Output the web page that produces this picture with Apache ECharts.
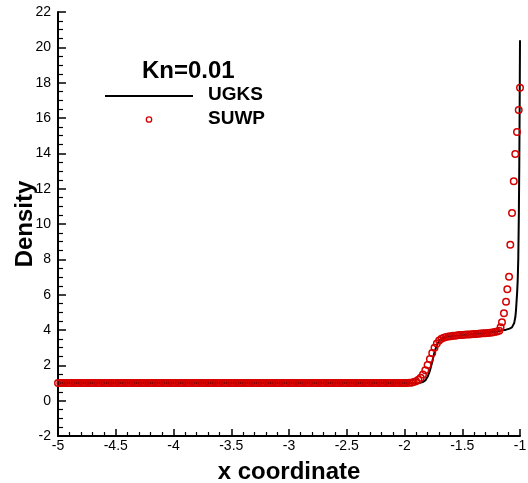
<!DOCTYPE html>
<html><head><meta charset="utf-8">
<script src="https://cdn.jsdelivr.net/npm/echarts@6/dist/echarts.min.js"></script>
<style>html,body{margin:0;padding:0;background:#fff}#c{width:528px;height:483px}</style>
</head><body><div id="c"></div>
<script>
// UGKS solution (solid line)
const ugksX = [-5, -2.5, -1.9, -1.86, -1.84, -1.82, -1.80, -1.78, -1.76, -1.74, -1.72, -1.70, -1.68, -1.65, -1.6, -1.5, -1.4, -1.3, -1.2, -1.15, -1.12, -1.09, -1.07, -1.06, -1.05, -1.04, -1.035, -1.03, -1.025, -1.02, -1.015, -1.01, -1.006, -1.003, -1.0];
const ugksY = [1, 1, 1.0, 1.02, 1.06, 1.15, 1.35, 1.7, 2.2, 2.75, 3.15, 3.4, 3.52, 3.6, 3.65, 3.71, 3.77, 3.83, 3.92, 3.98, 4.02, 4.08, 4.15, 4.2, 4.4, 4.75, 5.1, 5.6, 6.1, 6.8, 8.0, 10.5, 13.5, 16.5, 20.4];

// SUWP solution (circles)
const suwpX = [
  -5,-4.98,-4.96,-4.94,-4.92,-4.9,-4.88,-4.86,-4.84,-4.82,-4.8,-4.78,-4.76,-4.74,-4.72,-4.7,-4.68,-4.66,-4.64,-4.62,-4.6,-4.58,-4.56,-4.54,-4.52,
  -4.5,-4.48,-4.46,-4.44,-4.42,-4.4,-4.38,-4.36,-4.34,-4.32,-4.3,-4.28,-4.26,-4.24,-4.22,-4.2,-4.18,-4.16,-4.14,-4.12,-4.1,-4.08,-4.06,-4.04,-4.02,
  -4,-3.98,-3.96,-3.94,-3.92,-3.9,-3.88,-3.86,-3.84,-3.82,-3.8,-3.78,-3.76,-3.74,-3.72,-3.7,-3.68,-3.66,-3.64,-3.62,-3.6,-3.58,-3.56,-3.54,-3.52,
  -3.5,-3.48,-3.46,-3.44,-3.42,-3.4,-3.38,-3.36,-3.34,-3.32,-3.3,-3.28,-3.26,-3.24,-3.22,-3.2,-3.18,-3.16,-3.14,-3.12,-3.1,-3.08,-3.06,-3.04,-3.02,
  -3,-2.98,-2.96,-2.94,-2.92,-2.9,-2.88,-2.86,-2.84,-2.82,-2.8,-2.78,-2.76,-2.74,-2.72,-2.7,-2.68,-2.66,-2.64,-2.62,-2.6,-2.58,-2.56,-2.54,-2.52,
  -2.5,-2.48,-2.46,-2.44,-2.42,-2.4,-2.38,-2.36,-2.34,-2.32,-2.3,-2.28,-2.26,-2.24,-2.22,-2.2,-2.18,-2.16,-2.14,-2.12,-2.1,-2.08,-2.06,-2.04,-2.02,
  -2,-1.98,-1.96,-1.94,-1.92,-1.9,-1.88,-1.86,-1.84,-1.82,-1.8,-1.78,-1.76,-1.74,-1.72,-1.7,-1.68,-1.66,
  -1.64,-1.62,-1.6,-1.58,-1.56,-1.54,-1.52,-1.5,-1.48,-1.46,-1.44,-1.42,-1.4,-1.38,-1.36,-1.34,-1.32,-1.3,-1.28,-1.26,-1.24,-1.22,-1.2,-1.18,
  -1.168,
  -1.156,-1.139,-1.121,-1.11,-1.095,-1.084,-1.069,-1.054,-1.041,-1.026,-1.011,-1.0
];
const suwpY = [
  1,1,1,1,1,1,1,1,1,1,1,1,1,1,1,1,1,1,1,1,1,1,1,1,1,
  1,1,1,1,1,1,1,1,1,1,1,1,1,1,1,1,1,1,1,1,1,1,1,1,1,
  1,1,1,1,1,1,1,1,1,1,1,1,1,1,1,1,1,1,1,1,1,1,1,1,1,
  1,1,1,1,1,1,1,1,1,1,1,1,1,1,1,1,1,1,1,1,1,1,1,1,1,
  1,1,1,1,1,1,1,1,1,1,1,1,1,1,1,1,1,1,1,1,1,1,1,1,1,
  1,1,1,1,1,1,1,1,1,1,1,1,1,1,1,1,1,1,1,1,1,1,1,1,1,
  1.0,1.0,1.01,1.02,1.05,1.1,1.18,1.3,1.48,1.72,2.02,2.36,2.7,3.0,3.24,3.4,3.5,3.56,
  3.6,3.63,3.65,3.67,3.68,3.7,3.71,3.72,3.73,3.74,3.75,3.76,3.77,3.78,3.79,3.8,3.81,3.82,3.83,3.85,3.86,3.88,3.91,3.96,
  4.15,
  4.44,4.95,5.6,6.3,7.02,8.83,10.62,12.42,13.96,15.21,16.45,17.71
];

const xTicks = {min: -5, max: -1, interval: 0.5};
const yTicks = {min: -2, max: 22, interval: 2};

const legendTitle = 'Kn=0.01';
const seriesNames = ['UGKS', 'SUWP'];
const xName = 'x coordinate';
const yName = 'Density';

const chart = echarts.init(document.getElementById('c'), null, {renderer: 'canvas'});
const font = 'Liberation Sans, Arial, sans-serif';
const red = '#d40000';
const axisCommon = {
  axisLine: {onZero: false, lineStyle: {color: '#000', width: 2}},
  axisTick: {inside: true, length: 8, lineStyle: {color: '#000', width: 1.5}},
  minorTick: {show: true, length: 4, lineStyle: {color: '#000', width: 1.2}},
  splitLine: {show: false},
  axisLabel: {color: '#000', fontFamily: font, fontSize: 14},
  nameTextStyle: {color: '#000', fontFamily: font, fontSize: 24, fontWeight: 'bold'}
};
chart.setOption({
  animation: false,
  backgroundColor: '#fff',
  grid: {left: 58, right: 8, top: 12, bottom: 47, containLabel: false, outerBoundsMode: 'none'},
  xAxis: Object.assign({}, axisCommon, {
    type: 'value', min: xTicks.min, max: xTicks.max, interval: xTicks.interval,
    name: xName, nameLocation: 'middle', nameGap: 24,
    minorTick: Object.assign({}, axisCommon.minorTick, {splitNumber: 5, length: 4}),
    axisTick: Object.assign({}, axisCommon.axisTick, {length: 7}),
    axisLabel: Object.assign({}, axisCommon.axisLabel, {margin: 3})
  }),
  yAxis: Object.assign({}, axisCommon, {
    type: 'value', min: yTicks.min, max: yTicks.max, interval: yTicks.interval,
    minorTick: Object.assign({}, axisCommon.minorTick, {splitNumber: 4, length: 5}),
    axisLabel: Object.assign({}, axisCommon.axisLabel, {margin: 7})
  }),
  title: {text: legendTitle, left: 137, top: 54, textStyle: {fontFamily: font, fontSize: 24, fontWeight: 'bold', color: '#000'}},
  graphic: [
    {type: 'text', x: 25, y: 224, rotation: Math.PI / 2, style: {text: yName, fill: '#000', font: 'bold 24px ' + font, align: 'center', verticalAlign: 'middle'}},
    {type: 'line', shape: {x1: 105, y1: 96, x2: 193, y2: 96}, style: {stroke: '#000', lineWidth: 2}},
    {type: 'text', x: 208, y: 95, style: {text: seriesNames[0], fill: '#000', font: 'bold 19px ' + font, verticalAlign: 'middle'}},
    {type: 'circle', shape: {cx: 149, cy: 119.5, r: 2.7}, style: {stroke: red, fill: 'none', lineWidth: 1.3}},
    {type: 'text', x: 208, y: 119, style: {text: seriesNames[1], fill: '#000', font: 'bold 19px ' + font, verticalAlign: 'middle'}}
  ],
  series: [
    {name: seriesNames[0], type: 'line', showSymbol: false, symbol: 'none', z: 2,
     lineStyle: {color: '#000', width: 2},
     data: ugksX.map((x, i) => [x, ugksY[i]])},
    {name: seriesNames[1], type: 'scatter', symbol: 'circle', symbolSize: 6.5, z: 3,
     itemStyle: {color: 'rgba(0,0,0,0)', borderColor: red, borderWidth: 1.5, opacity: 1},
     emphasis: {disabled: true},
     data: suwpX.map((x, i) => [x, suwpY[i]])}
  ]
});
</script>
</body></html>
